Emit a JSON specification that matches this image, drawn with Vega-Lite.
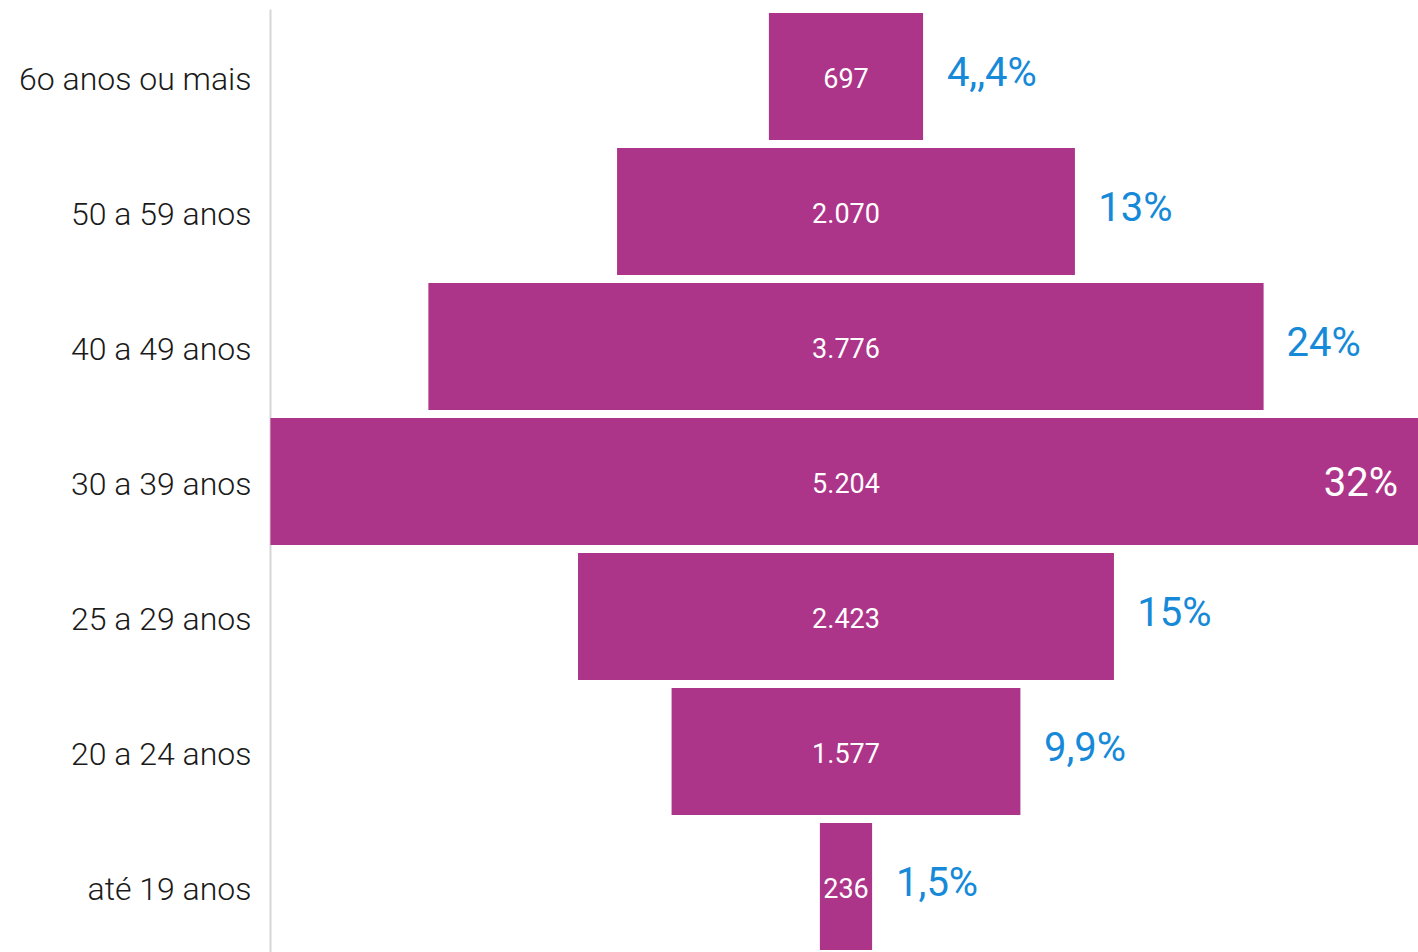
{
  "$schema": "https://vega.github.io/schema/vega-lite/v6.json",
  "width": 1148,
  "height": 945,
  "autosize": {"type": "none"},
  "padding": {"left": 270, "top": 9, "right": 0, "bottom": 0},
  "background": "white",
  "config": {"view": {"stroke": null}},
  "data": {
    "values": [
      {"faixa": "6o anos ou mais", "value": 697, "label": "697", "pct": "4,,4%"},
      {"faixa": "50 a 59 anos", "value": 2070, "label": "2.070", "pct": "13%"},
      {"faixa": "40 a 49 anos", "value": 3776, "label": "3.776", "pct": "24%"},
      {"faixa": "30 a 39 anos", "value": 5204, "label": "5.204", "pct": "32%"},
      {"faixa": "25 a 29 anos", "value": 2423, "label": "2.423", "pct": "15%"},
      {"faixa": "20 a 24 anos", "value": 1577, "label": "1.577", "pct": "9,9%"},
      {"faixa": "até 19 anos", "value": 236, "label": "236", "pct": "1,5%"}
    ]
  },
  "encoding": {
    "y": {
      "field": "faixa",
      "type": "nominal",
      "sort": null,
      "scale": {"paddingInner": 0.06, "paddingOuter": 0.03},
      "axis": {
        "title": null,
        "ticks": false,
        "labelFont": "Roboto",
        "labelFontSize": 32,
        "labelFontWeight": 300,
        "labelColor": "#1a1a1a",
        "labelPadding": 19,
        "labelOffset": 3,
        "labelLimit": 400,
        "domainColor": "#d6d6d6",
        "domainWidth": 2
      }
    }
  },
  "layer": [
    {
      "encoding": {
        "x": {
          "field": "value",
          "type": "quantitative",
          "stack": "center",
          "scale": {"domain": [-2, 5188], "nice": false, "zero": false},
          "axis": null
        }
      },
      "layer": [
        {"mark": {"type": "bar", "color": "#ad3589", "clip": true}},
        {
          "mark": {"type": "text", "color": "white", "font": "Roboto", "fontSize": 27, "align": "center", "baseline": "middle", "dy": 3},
          "encoding": {
            "x": {"datum": 2602, "type": "quantitative"},
            "text": {"field": "label"}
          }
        }
      ]
    },
    {
      "encoding": {
        "x": {
          "field": "value",
          "type": "quantitative",
          "scale": {"domain": [-5204, 5204], "nice": false, "zero": false},
          "axis": null
        },
        "text": {"field": "pct"}
      },
      "layer": [
        {
          "transform": [{"filter": "datum.value < 5000"}],
          "mark": {"type": "text", "color": "#168ad8", "font": "Roboto", "fontSize": 40, "align": "left", "baseline": "middle", "dx": 26, "dy": -3}
        },
        {
          "transform": [{"filter": "datum.value >= 5000"}],
          "mark": {"type": "text", "color": "white", "font": "Roboto", "fontSize": 40, "align": "right", "baseline": "middle", "dx": -20, "dy": 2}
        }
      ]
    }
  ],
  "resolve": {"scale": {"x": "independent"}}
}
